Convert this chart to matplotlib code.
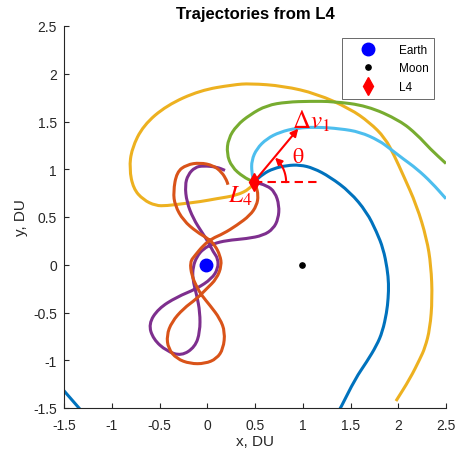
import numpy as np
import matplotlib
matplotlib.use("Agg")
import matplotlib.pyplot as plt
from matplotlib.path import Path
from matplotlib.patches import PathPatch

plt.rcParams['font.family'] = ['Liberation Sans', 'DejaVu Sans']
plt.rcParams['mathtext.fontset'] = 'stix'

# ---- data (DU) ----
mu = 0.01215
earth = (-mu, 0.0)
moon = (1 - mu, 0.0)
l4 = (0.5 - mu, 0.866)

blue_x = [0.488, 0.587, 0.692, 0.832, 0.971, 1.111, 1.285, 1.495, 1.670, 1.774, 1.843,
          1.885, 1.900, 1.895, 1.879, 1.835, 1.774, 1.669, 1.550, 1.397, 1.330]
blue_y = [0.866, 0.953, 1.007, 1.040, 1.046, 1.012, 0.920, 0.762, 0.552, 0.343, 0.168,
          -0.042, -0.200, -0.350, -0.500, -0.700, -0.844, -1.018, -1.193, -1.500, -1.610]
blue_tail_x = [-1.62, -1.50, -1.343, -1.30]
blue_tail_y = [-1.18, -1.32, -1.500, -1.55]

yellow_x = [0.488, 0.448, 0.308, 0.099, -0.076, -0.251, -0.425, -0.540, -0.670, -0.774,
            -0.816, -0.791, -0.670, -0.425, -0.076, 0.273, 0.448, 0.797, 1.146, 1.495,
            1.700, 1.861, 1.960, 2.053, 2.193, 2.298, 2.343, 2.357, 2.332, 2.280, 2.228, 2.123, 1.976]
yellow_y = [0.866, 0.796, 0.726, 0.692, 0.660, 0.640, 0.618, 0.618, 0.680, 0.796,
            1.006, 1.215, 1.459, 1.669, 1.826, 1.885, 1.898, 1.872, 1.791, 1.634,
            1.490, 1.329, 1.140, 0.936, 0.621, 0.273, -0.007, -0.356, -0.670, -0.870, -0.984, -1.193, -1.427]

green_x = [0.488, 0.377, 0.256, 0.204, 0.220, 0.308, 0.448, 0.623, 0.832, 1.076, 1.320,
           1.673, 2.018, 2.200, 2.332, 2.500]
green_y = [0.866, 0.919, 1.024, 1.163, 1.320, 1.459, 1.572, 1.669, 1.704, 1.712, 1.710,
           1.665, 1.510, 1.360, 1.215, 1.060]

lblue_x = [0.488, 0.465, 0.465, 0.518, 0.623, 0.762, 0.937, 1.146, 1.390, 1.600, 1.800,
           1.914, 2.050, 2.193, 2.350, 2.500]
lblue_y = [0.866, 0.971, 1.093, 1.215, 1.320, 1.390, 1.432, 1.442, 1.425, 1.390, 1.300,
           1.215, 1.110, 1.006, 0.860, 0.691]

orange_x = [0.488, 0.510, 0.535, 0.518, 0.448, 0.308, 0.168, 0.047, -0.041, -0.128, -0.181,
            -0.163, -0.110, -0.058, 0.029, 0.134, 0.186, 0.168, 0.099, -0.024, -0.181, -0.320,
            -0.408, -0.425, -0.372, -0.251, -0.110, -0.006, 0.099, 0.151, 0.134, 0.081, 0.011,
            -0.110, -0.251, -0.338, -0.356, -0.320, -0.215, -0.076, 0.063, 0.151, 0.204, 0.217]
orange_y = [0.866, 0.831, 0.726, 0.621, 0.517, 0.412, 0.325, 0.273, 0.203, 0.098, 0.029,
            -0.112, -0.233, -0.321, -0.426, -0.565, -0.704, -0.879, -0.984, -1.036, -1.036, -0.984,
            -0.879, -0.740, -0.599, -0.460, -0.355, -0.251, -0.146, -0.007, 0.098, 0.203, 0.273,
            0.343, 0.464, 0.621, 0.762, 0.971, 1.048, 1.069, 1.040, 0.971, 0.883, 0.838]

purple_x = [0.488, 0.623, 0.709, 0.754, 0.744, 0.692, 0.587, 0.413, 0.204, 0.063, -0.041,
            -0.110, -0.149, -0.154, -0.110, -0.076, -0.076, -0.128, -0.270, -0.425, -0.565,
            -0.615, -0.513, -0.320, -0.110, 0.047, 0.113, 0.113, 0.063, 0.011, -0.058, -0.146,
            -0.215, -0.233, -0.202, -0.128, -0.041, 0.099, 0.186]
purple_y = [0.866, 0.831, 0.762, 0.621, 0.482, 0.377, 0.307, 0.273, 0.255, 0.220, 0.168,
            0.084, -0.021, -0.146, -0.321, -0.495, -0.704, -0.861, -0.955, -0.905, -0.780,
            -0.620, -0.460, -0.338, -0.251, -0.146, -0.041, 0.064, 0.134, 0.238, 0.343, 0.482,
            0.657, 0.831, 0.943, 1.021, 1.037, 1.024, 0.988]

ticks = [-1.5, -1, -0.5, 0, 0.5, 1, 1.5, 2, 2.5]
tick_labels = ['-1.5', '-1', '-0.5', '0', '0.5', '1', '1.5', '2', '2.5']

dv_tip = (0.953, 1.425)
dash_end = 1.18
theta_deg = 50.0
arc_r = 0.338

C_BLUE = '#0072BD'
C_ORANGE = '#D95319'
C_YELLOW = '#EDB120'
C_PURPLE = '#7E2F8E'
C_GREEN = '#77AC30'
C_LBLUE = '#4DBEEE'
AX_C = '#262626'

fig = plt.figure(figsize=(4.57, 4.60), dpi=100)
ax = fig.add_axes([64/457, 51/460, 382/457, 382/460])

lw = 2.2


def smooth_curve(xs, ys, color):
    """Draw a smooth quadratic-Bezier path using the read points as control points."""
    p = list(zip(xs, ys))
    verts = [p[0], ((p[0][0] + p[1][0]) / 2, (p[0][1] + p[1][1]) / 2)]
    codes = [Path.MOVETO, Path.LINETO]
    for i in range(1, len(p) - 1):
        nxt = p[i + 1]
        mid = ((p[i][0] + nxt[0]) / 2, (p[i][1] + nxt[1]) / 2)
        verts += [p[i], mid]
        codes += [Path.CURVE3, Path.CURVE3]
    verts.append(p[-1])
    codes.append(Path.LINETO)
    patch = PathPatch(Path(verts, codes), facecolor='none', edgecolor=color, lw=lw,
                      capstyle='butt', joinstyle='round', transform=ax.transData)
    ax.add_patch(patch)


smooth_curve(blue_x, blue_y, C_BLUE)
smooth_curve(blue_tail_x, blue_tail_y, C_BLUE)
smooth_curve(yellow_x, yellow_y, C_YELLOW)
smooth_curve(purple_x, purple_y, C_PURPLE)
smooth_curve(orange_x, orange_y, C_ORANGE)
smooth_curve(green_x, green_y, C_GREEN)
smooth_curve(lblue_x, lblue_y, C_LBLUE)

h_e, = ax.plot([earth[0]], [earth[1]], 'o', color='#0000FF', ms=9, label='Earth', zorder=5)
h_m, = ax.plot([moon[0]], [moon[1]], 'o', color='black', ms=3.8, label='Moon', zorder=5)

# annotations
ax.plot([l4[0], dash_end], [l4[1], l4[1]], color='red', lw=1.5, dashes=(4, 2.5), zorder=6)
ax.annotate('', xy=dv_tip, xytext=l4,
            arrowprops=dict(arrowstyle='-|>', color='red', lw=1.5, mutation_scale=11,
                            shrinkA=0, shrinkB=0), zorder=7)
t = np.radians(np.linspace(0, theta_deg - 8, 30))
ax.plot(l4[0] + arc_r*np.cos(t), l4[1] + arc_r*np.sin(t), color='red', lw=1.5, zorder=6)
ta = np.radians(theta_deg - 8)
tb = np.radians(theta_deg - 1)
ax.annotate('', xy=(l4[0] + arc_r*np.cos(tb), l4[1] + arc_r*np.sin(tb)),
            xytext=(l4[0] + arc_r*np.cos(ta), l4[1] + arc_r*np.sin(ta)),
            arrowprops=dict(arrowstyle='-|>', color='red', lw=1.5, mutation_scale=10,
                            shrinkA=0, shrinkB=0), zorder=7)

h_l4, = ax.plot([l4[0]], [l4[1]], 'd', color='red', ms=9, label='L4', zorder=8)

ax.text(0.885, 1.44, r'$\Delta v_1$', color='red', fontsize=18, ha='left', va='baseline', zorder=9)
ax.text(0.89, 1.08, 'θ', color='red', fontsize=16, family='STIXGeneral', ha='left', va='baseline', zorder=9)
ax.text(0.222, 0.655, r'$L_4$', color='red', fontsize=18, ha='left', va='baseline', zorder=9)

ax.set_xlim(-1.5, 2.5)
ax.set_ylim(-1.5, 2.5)
ax.set_xticks(ticks)
ax.set_xticklabels(tick_labels)
ax.set_yticks(ticks)
ax.set_yticklabels(tick_labels)
for s in ['top', 'right']:
    ax.spines[s].set_visible(False)
for s in ['left', 'bottom']:
    ax.spines[s].set_color(AX_C)
    ax.spines[s].set_linewidth(0.8)
ax.tick_params(direction='in', length=3.5, width=0.8, colors=AX_C, labelsize=10)
ax.tick_params(axis='x', pad=7)
ax.tick_params(axis='y', pad=5)

ax.set_title('Trajectories from L4', fontsize=12, fontweight='bold', color='black', pad=6)
ax.set_xlabel('x, DU', fontsize=11, color=AX_C, labelpad=2)
ax.set_ylabel('y, DU', fontsize=11, color=AX_C, labelpad=4)

leg = ax.legend(handles=[h_e, h_m, h_l4], loc='upper right', bbox_to_anchor=(0.969, 0.969),
                borderaxespad=0, fontsize=8.5, frameon=True, fancybox=False,
                edgecolor='#262626', handletextpad=0.9, borderpad=0.5, labelspacing=0.55,
                handlelength=3.4)
leg.get_frame().set_linewidth(0.6)

fig.savefig('out.png', dpi=100)
